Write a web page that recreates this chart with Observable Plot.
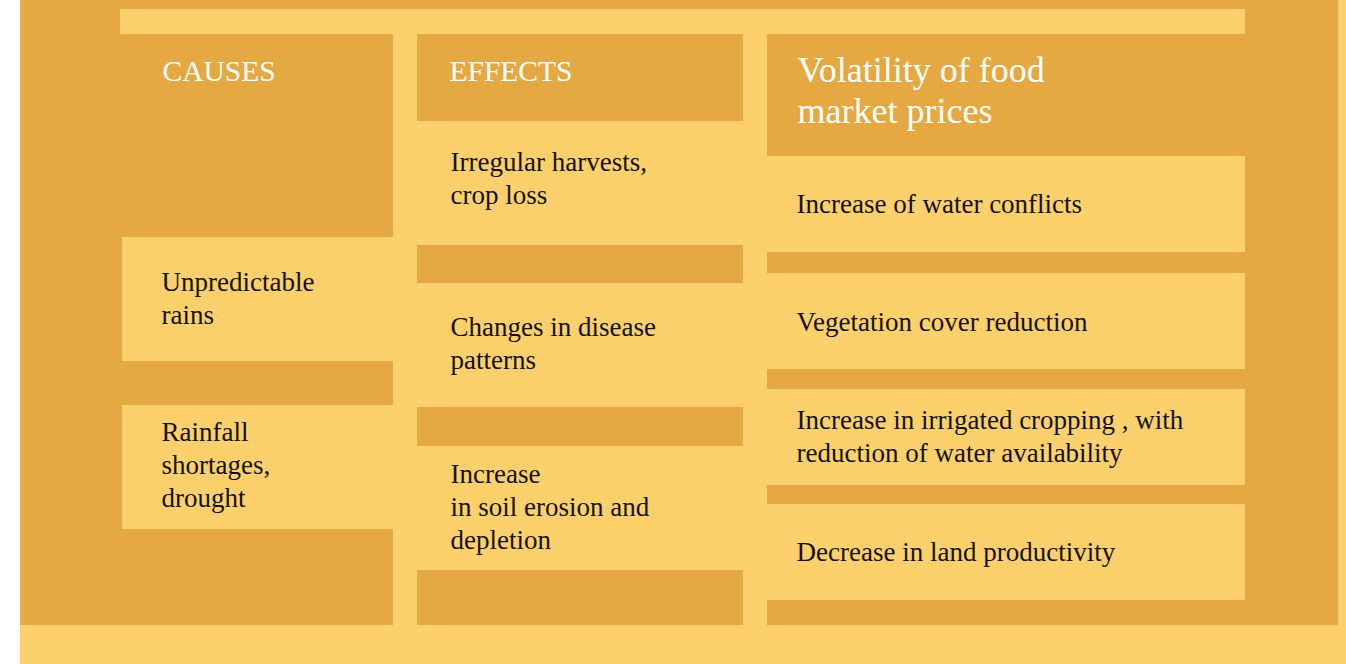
<!DOCTYPE html>
<html>
<head>
<meta charset="utf-8">
<script src="https://cdn.jsdelivr.net/npm/d3@7"></script>
<script src="https://cdn.jsdelivr.net/npm/@observablehq/plot@0.6"></script>
<style>
  html, body { margin: 0; padding: 0; background: #ffffff; overflow: hidden; }
  #chart svg { display: block; }
</style>
</head>
<body>
<div id="chart"></div>
<script>
// ---- Data (texts) ----
const headers = ["CAUSES", "EFFECTS", "Volatility of food\nmarket prices"];
const causes = ["Unpredictable\nrains", "Rainfall\nshortages,\ndrought"];
const effects = ["Irregular harvests,\ncrop loss", "Changes in disease\npatterns", "Increase\nin soil erosion and\ndepletion"];
const impacts = [
  "Increase of water conflicts",
  "Vegetation cover reduction",
  "Increase in irrigated cropping , with\nreduction of water availability",
  "Decrease in land productivity"
];

// ---- Layout ----
const W = 1346, H = 664;
const DARK = "#E4A942", LIGHT = "#FCD06C";
const colX = [[122, 393], [417, 743], [767, 1245]];
const textX = [161, 450, 796];
const boxY = [
  [[237, 361], [405, 529]],
  [[121, 245], [283, 407], [446, 570]],
  [[156, 252], [273, 369], [389, 485], [504, 600]]
];
const textShift = [
  [-3, -4],
  [-7, -4, -3],
  [-2, -1, -3, -2]
];
const columns = [causes, effects, impacts];

const frame = [{x1: 20, x2: 1338, y1: 0, y2: 625}];
const lightBands = [
  {x1: 120, x2: 1245, y1: 9, y2: 34},
  {x1: 393, x2: 417, y1: 9, y2: 625},
  {x1: 743, x2: 767, y1: 9, y2: 625},
  {x1: 20, x2: W, y1: 625, y2: H},
  {x1: 1338, x2: W, y1: 0, y2: 625}
];
const boxes = [];
const labels = [];
columns.forEach((items, c) => {
  items.forEach((t, i) => {
    const [y1, y2] = boxY[c][i];
    boxes.push({x1: colX[c][0], x2: colX[c][1], y1, y2});
    labels.push({x: textX[c], y: (y1 + y2) / 2 + textShift[c][i], text: t});
  });
});
const headerLabels = [
  {x: 162, y: 71, text: headers[0]},
  {x: 449, y: 71, text: headers[1]},
  {x: 797, y: 89, text: headers[2]}
];

const chart = Plot.plot({
  width: W,
  height: H,
  margin: 0,
  x: {domain: [0, W], range: [0, W], axis: null},
  y: {domain: [0, H], range: [0, H], axis: null},
  style: {background: "transparent", fontFamily: "'Liberation Serif', serif"},
  marks: [
    Plot.rect(frame, {x1: "x1", x2: "x2", y1: "y1", y2: "y2", fill: DARK}),
    Plot.ruleX([20.5], {y1: 0, y2: 625, stroke: "#EFB64F", strokeWidth: 1}),
    Plot.rect(lightBands, {x1: "x1", x2: "x2", y1: "y1", y2: "y2", fill: LIGHT}),
    Plot.rect(boxes, {x1: "x1", x2: "x2", y1: "y1", y2: "y2", fill: LIGHT}),
    Plot.text(labels, {
      x: "x", y: "y", text: "text",
      textAnchor: "start", lineAnchor: "middle", lineHeight: 1.22,
      fontSize: 27, fill: "#141210", fontFamily: "'Liberation Serif', serif"
    }),
    Plot.text(headerLabels.slice(0, 2), {
      x: "x", y: "y", text: "text",
      textAnchor: "start", lineAnchor: "middle",
      fontSize: 29.5, fill: "#ffffff", fontFamily: "'Liberation Serif', serif"
    }),
    Plot.text(headerLabels.slice(2), {
      x: "x", y: "y", text: "text",
      textAnchor: "start", lineAnchor: "middle", lineHeight: 1.14,
      fontSize: 36, fill: "#ffffff", fontFamily: "'Liberation Serif', serif"
    })
  ]
});
document.getElementById("chart").appendChild(chart);
</script>
</body>
</html>
